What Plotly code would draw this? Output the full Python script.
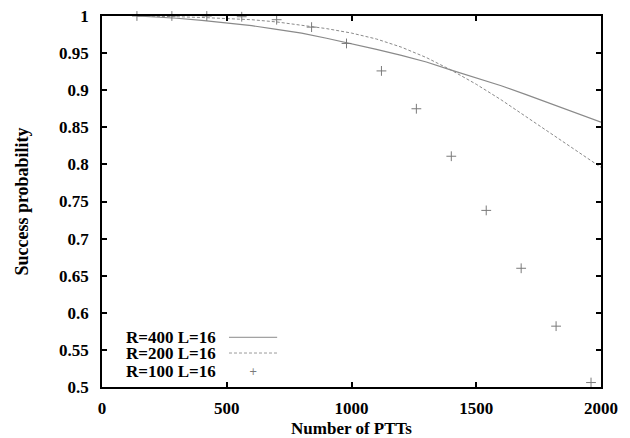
import plotly.graph_objects as go

# Data
line_x = [140, 200, 300, 400, 500, 600, 700, 800, 900, 1000, 1100, 1200, 1300, 1400,
          1500, 1600, 1700, 1800, 1900, 2000]
r400 = [1.0, 0.999, 0.997, 0.994, 0.991, 0.987, 0.982, 0.977, 0.970, 0.963, 0.955,
        0.947, 0.938, 0.927, 0.917, 0.906, 0.894, 0.882, 0.870, 0.857]
r200 = [1.0, 1.0, 0.999, 0.998, 0.997, 0.995, 0.992, 0.988, 0.983, 0.977, 0.969,
        0.958, 0.944, 0.927, 0.908, 0.887, 0.864, 0.841, 0.818, 0.796]
pts_x = [140, 280, 420, 560, 700, 840, 980, 1120, 1260, 1400, 1540, 1680, 1820, 1960]
r100 = [1.0, 1.0, 1.0, 0.999, 0.995, 0.985, 0.963, 0.926, 0.875, 0.811, 0.738,
        0.660, 0.582, 0.506]
labels = ["R=400 L=16", "R=200 L=16", "R=100 L=16"]
x_ticks = [0, 500, 1000, 1500, 2000]
y_ticks = [0.5, 0.55, 0.6, 0.65, 0.7, 0.75, 0.8, 0.85, 0.9, 0.95, 1.0]
y_ticktext = ["0.5", "0.55", "0.6", "0.65", "0.7", "0.75", "0.8", "0.85", "0.9", "0.95", "1"]

FONT = "Liberation Serif"

fig = go.Figure()
fig.add_trace(go.Scatter(x=line_x, y=r400, mode="lines", name=labels[0],
                         line=dict(color="#8a8a8a", width=1.2), cliponaxis=False))
fig.add_trace(go.Scatter(x=line_x, y=r200, mode="lines", name=labels[1],
                         line=dict(color="#8a8a8a", width=1, dash="3px,2px"), cliponaxis=False))
fig.add_trace(go.Scatter(x=pts_x, y=r100, mode="markers", name=labels[2],
                         marker=dict(symbol="cross-thin", size=7,
                                     line=dict(color="#7a7a7a", width=1)),
                         cliponaxis=False))

# custom legend (text right-aligned, sample to the right)
leg_y = [0.134, 0.0916, 0.041]
for i, lab in enumerate(labels):
    fig.add_annotation(xref="paper", yref="paper", x=0.2325, y=leg_y[i], text="<b>%s</b>" % lab,
                       showarrow=False, xanchor="right", yanchor="middle",
                       font=dict(family=FONT, size=17, color="black"))
fig.add_shape(type="line", xref="paper", yref="paper", x0=0.2545, x1=0.351,
              y0=leg_y[0], y1=leg_y[0], line=dict(color="#8a8a8a", width=1))
fig.add_shape(type="line", xref="paper", yref="paper", x0=0.2545, x1=0.351,
              y0=leg_y[1], y1=leg_y[1], line=dict(color="#9a9a9a", width=1, dash="3px,2px"))
fig.add_annotation(xref="paper", yref="paper", x=0.3026, y=leg_y[2], text="+",
                   showarrow=False, xanchor="center", yanchor="middle",
                   font=dict(family="DejaVu Sans", size=10, color="#7a7a7a"))

axis_common = dict(showgrid=False, zeroline=False, showline=True, linecolor="black",
                   linewidth=1.5, mirror="ticks", ticks="inside", ticklen=5,
                   tickwidth=1.5, tickcolor="black", automargin=False,
                   tickfont=dict(family=FONT, size=17, color="black"))
fig.update_xaxes(range=[0, 2000], tickvals=x_ticks, ticktext=["<b>%d</b>" % v for v in x_ticks],
                 ticklabelstandoff=5,
                 title=dict(text="<b>Number of PTTs</b>", font=dict(family=FONT, size=17, color="black"),
                            standoff=10),
                 **axis_common)
fig.update_yaxes(range=[0.5, 1.0], tickvals=y_ticks, ticktext=["<b>%s</b>" % t for t in y_ticktext],
                 ticklabelstandoff=8,
                 title=dict(text="<b>Success probability</b>", font=dict(family=FONT, size=18, color="black"),
                            standoff=26),
                 **axis_common)
fig.update_layout(width=630, height=438, showlegend=False,
                  margin=dict(l=102, r=29, t=16, b=51),
                  paper_bgcolor="white", plot_bgcolor="white")
fig.write_html("out.html", config={"displayModeBar": False},
               post_script="document.body.style.margin='0';document.body.style.padding='0';")
